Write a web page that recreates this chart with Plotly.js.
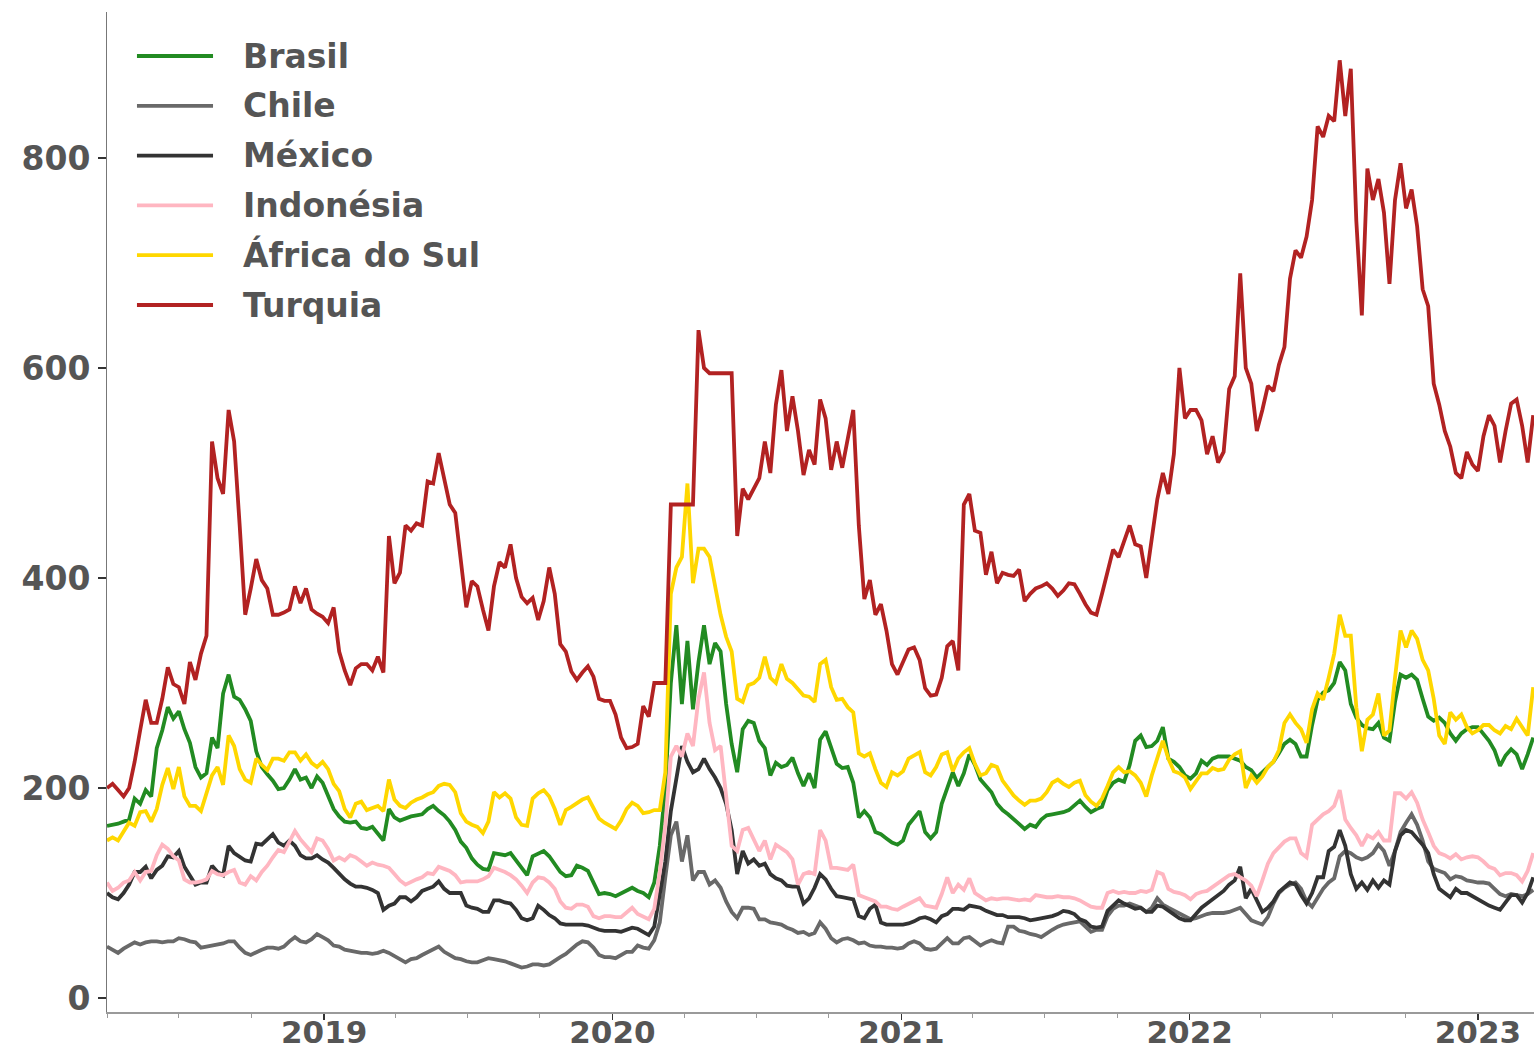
<!DOCTYPE html>
<html>
<head>
<meta charset="utf-8">
<script src="https://cdn.plot.ly/plotly-3.0.1.min.js"></script>
<style>
  html, body { margin: 0; padding: 0; background: #ffffff; }
  #chart { width: 1534px; height: 1051px; }
</style>
</head>
<body>
<div id="chart"></div>
<script>
// Weekly observations starting 2018-04-01
const startDate = '2018-04-01';
const stepDays = 7;

const seriesNames = ['Brasil', 'Chile', 'México', 'Indonésia', 'África do Sul', 'Turquia'];
const seriesColors = ['#228B22', '#696969', '#333333', '#FFB6C1', '#FFD700', '#B22222'];

const brasil = [
164,165,166,168,170,190,185,198,192,238,
255,277,266,273,256,243,220,210,214,248,
238,290,308,287,284,275,264,235,220,213,
207,199,200,208,218,208,210,200,211,205,
192,180,173,168,167,168,162,161,163,157,
150,180,172,169,171,173,174,175,180,183,
178,174,168,160,149,143,133,127,123,122,
138,137,136,138,131,125,117,135,138,140,
135,128,120,116,117,126,124,121,110,99,
100,99,97,100,102,105,102,100,96,110,
145,200,300,355,280,340,275,320,355,318,
338,330,280,242,215,256,264,262,245,238,
212,224,220,222,229,214,202,214,200,246,
254,238,223,219,220,205,172,178,172,158,
156,152,148,146,150,165,172,178,158,152,
158,185,200,215,202,214,232,222,208,202,
196,185,179,175,170,165,161,165,163,170,
174,175,176,177,179,184,188,182,177,180,
182,198,205,208,206,222,245,250,239,240,
245,258,228,225,220,212,209,214,226,222,
228,230,230,230,228,226,220,217,210,215,
220,225,233,242,246,242,230,230,260,284,
291,293,300,320,312,280,267,260,257,256,
262,248,245,282,308,305,308,303,285,268,
264,267,262,252,245,252,256,258,258,252,
245,236,221,231,237,232,218,232,248
];

const chile = [
49,46,43,47,50,53,51,53,54,54,
53,54,54,57,56,54,53,48,49,50,
51,52,54,54,48,43,41,44,46,48,
48,47,49,54,58,54,53,56,61,58,
55,50,49,46,45,44,43,43,42,43,
45,43,40,37,34,37,38,41,44,46,
49,44,41,38,37,35,34,34,36,38,
37,36,35,33,31,29,30,32,32,31,
32,36,39,42,47,51,54,53,48,41,
39,39,38,41,44,44,50,48,47,55,
72,115,155,168,130,155,112,120,120,108,
112,105,92,82,76,86,86,85,75,75,
72,71,70,67,65,62,63,60,62,72,
66,57,53,56,57,55,52,53,50,49,
49,48,48,47,48,52,54,52,47,46,
47,52,57,52,52,57,58,54,50,53,
55,53,52,68,68,64,63,61,60,58,
62,65,68,70,71,72,73,68,63,65,
65,78,85,88,88,90,88,86,82,86,
95,89,86,83,81,78,75,76,78,80,
81,81,81,82,84,86,80,74,72,70,
77,90,100,105,108,110,104,92,87,96,
104,110,114,135,140,138,134,132,134,138,
146,140,126,140,158,167,175,165,150,130,
123,121,119,113,116,115,112,111,110,110,
109,104,99,97,99,98,97,99,103
];

const mexico = [
100,96,94,100,108,120,120,125,114,122,
126,135,134,140,125,117,108,110,110,126,
120,117,145,138,135,131,130,147,146,151,
156,148,145,150,145,136,133,133,136,132,
129,124,118,113,109,106,106,105,103,100,
84,88,90,96,96,92,96,102,104,106,
111,104,100,100,100,88,86,85,82,82,
93,93,91,90,84,76,74,76,88,84,
79,76,71,70,70,70,70,69,67,65,
64,64,64,63,65,67,66,63,60,68,
100,130,178,210,240,225,215,218,228,218,
210,200,185,160,118,140,128,132,126,128,
118,114,112,107,106,106,90,95,105,118,
113,104,97,96,95,94,78,76,85,89,
72,70,70,70,70,71,73,76,77,75,
72,78,80,85,85,84,88,87,86,83,
81,79,79,77,77,77,76,74,75,76,
77,78,80,83,82,80,75,73,68,67,
68,83,88,93,90,87,85,86,82,82,
88,87,83,79,76,74,74,80,86,90,
94,98,102,108,112,125,95,104,92,82,
86,92,101,106,110,108,98,90,100,115,
115,140,144,160,145,118,104,110,103,112,
105,112,108,140,155,160,158,152,146,138,
118,104,100,96,104,100,100,97,93,90,
88,86,84,91,98,98,91,100,115
];

const indonesia = [
110,102,105,110,112,120,112,120,121,136,
146,142,135,131,113,110,110,111,113,121,
118,117,120,122,110,108,116,112,120,126,
134,141,139,149,159,151,145,139,152,150,
142,131,134,131,136,134,130,126,129,127,
126,124,118,112,108,111,113,115,119,118,
125,123,121,117,110,111,111,111,113,116,
124,122,120,117,113,107,100,110,115,114,
110,104,92,86,85,89,89,87,78,76,
78,78,77,77,81,86,80,77,75,85,
120,165,230,240,230,252,240,285,310,262,
236,240,190,145,140,160,162,150,140,150,
132,146,142,139,132,108,118,120,118,160,
150,124,124,123,122,127,98,96,94,92,
87,87,85,84,87,90,93,95,88,87,
86,99,115,100,108,103,114,100,96,93,
95,94,95,95,94,93,94,93,98,97,
96,96,97,96,96,95,93,90,87,86,
86,100,102,100,101,100,100,102,101,103,
120,118,104,101,100,98,94,99,101,102,
106,110,114,117,118,115,112,107,97,112,
128,138,143,149,152,152,138,134,165,170,
175,178,183,198,170,162,155,145,155,152,
158,150,150,195,195,190,196,186,170,158,
145,138,136,133,137,132,134,135,134,130,
125,123,117,119,119,117,111,121,138
];

const africaDoSul = [
150,153,150,158,167,164,177,178,168,180,
203,219,199,220,192,183,183,178,195,212,
220,203,250,240,218,208,205,228,222,217,
228,228,226,234,234,226,232,224,220,225,
218,204,197,180,172,185,187,179,181,183,
178,208,189,183,181,186,189,191,194,196,
202,204,203,196,176,168,165,163,157,168,
196,191,195,190,172,165,164,190,195,198,
192,180,165,179,182,186,189,191,180,171,
167,164,161,169,180,186,183,176,177,179,
179,215,385,410,420,490,395,428,428,420,
390,365,344,330,285,282,298,300,305,325,
305,300,318,304,300,294,288,287,282,318,
322,296,284,285,277,272,233,230,233,218,
205,201,215,212,216,228,231,234,215,212,
220,232,234,216,228,234,238,223,212,214,
222,220,207,200,193,188,184,188,188,190,
196,205,208,204,201,205,207,193,187,183,
190,202,215,220,215,216,212,205,192,212,
230,245,228,216,214,210,199,206,214,214,
219,217,218,227,232,235,200,212,205,211,
220,225,236,262,270,262,256,243,275,290,
284,305,328,365,345,345,277,235,265,270,
290,250,255,305,350,334,350,342,322,312,
285,250,242,272,265,270,258,252,255,260,
260,255,252,259,256,266,258,250,296
];

const turquia = [
200,204,198,192,200,225,255,284,262,262,
285,315,299,296,280,320,303,328,345,530,
495,480,560,530,450,365,390,418,398,390,
365,365,367,370,392,376,390,370,366,363,
357,372,330,312,298,314,318,318,312,325,
310,440,395,405,450,445,452,450,492,490,
519,495,470,462,420,372,397,392,370,350,
392,415,410,432,400,382,376,381,360,378,
410,385,337,330,311,303,310,316,306,285,
283,283,270,248,238,239,242,278,268,300,
300,300,470,470,470,470,470,636,600,595,
595,595,595,595,440,485,475,485,495,530,
500,565,598,540,573,540,498,522,508,570,
552,503,530,505,535,560,450,380,398,365,
375,350,318,308,320,332,334,322,295,288,
289,305,335,340,312,470,480,445,443,403,
425,395,405,403,402,408,378,385,390,392,
395,390,383,388,395,394,385,375,367,365,
385,407,427,420,435,450,432,430,400,439,
475,500,480,518,600,552,560,560,550,518,
535,510,520,580,592,690,600,585,540,560,
583,578,603,620,685,712,705,725,760,830,
820,840,835,893,840,885,740,650,790,760,
780,748,680,760,795,752,770,735,675,659,
585,565,540,525,500,495,520,508,502,535,
555,545,510,540,566,570,545,510,555
];

const yTickVals = [0, 200, 400, 600, 800];
const yTickText = ['0', '200', '400', '600', '800'];

const allValues = [brasil, chile, mexico, indonesia, africaDoSul, turquia];

function makeDates(n) {
  const t0 = Date.parse(startDate + 'T00:00:00Z');
  const out = [];
  for (let i = 0; i < n; i++) {
    out.push(new Date(t0 + i * stepDays * 86400000).toISOString().slice(0, 10));
  }
  return out;
}

const FONT = 'DejaVu Sans, Verdana, sans-serif';
const TEXT = '#555555';

const traces = allValues.map((vals, k) => ({
  type: 'scatter',
  mode: 'lines',
  name: seriesNames[k],
  x: makeDates(vals.length),
  y: vals,
  line: { color: seriesColors[k], width: 3.8 },
  showlegend: false,
  hoverinfo: 'x+y+name'
}));

// Legend drawn as key lines + labels in paper coordinates
const legendTop = 0.956;     // first row (paper y)
const legendStep = 0.0498;   // row spacing (paper units)
const legendX0 = 0.0210, legendX1 = 0.0743, legendTextX = 0.0939;
const shapes = [];
const annotations = [];
seriesNames.forEach((nm, k) => {
  const yy = legendTop - k * legendStep;
  shapes.push({
    type: 'line', xref: 'paper', yref: 'paper',
    x0: legendX0, x1: legendX1, y0: yy, y1: yy,
    line: { color: seriesColors[k], width: 3.8 }
  });
  annotations.push({
    xref: 'paper', yref: 'paper', x: legendTextX, y: yy,
    xanchor: 'left', yanchor: 'middle', showarrow: false,
    text: nm,
    font: { family: FONT, size: 33, color: TEXT, weight: 'bold' }
  });
});

const layout = {
  width: 1534,
  height: 1051,
  margin: { l: 107, r: 0, t: 12, b: 39, pad: 0 },
  paper_bgcolor: '#ffffff',
  plot_bgcolor: '#ffffff',
  font: { family: FONT, color: TEXT, size: 32 },
  showlegend: false,
  shapes: shapes,
  annotations: annotations,
  xaxis: {
    type: 'date',
    range: ['2018-04-01', '2023-03-13'],
    showgrid: false,
    zeroline: false,
    showline: true,
    linecolor: '#9a9a9a',
    linewidth: 1.5,
    ticks: 'outside',
    ticklen: 6,
    tickwidth: 1.5,
    tickcolor: '#333333',
    tick0: '2019-01-01',
    dtick: 'M12',
    tickformat: '%Y',
    ticklabelstandoff: -14,
    tickfont: { family: FONT, size: 31, color: TEXT, weight: 'bold' },
    minor: { dtick: 'M3', ticks: 'outside', ticklen: 4, tickcolor: '#9a9a9a', tickwidth: 1, showgrid: false }
  },
  yaxis: {
    range: [-13.3, 939],
    showgrid: false,
    zeroline: false,
    showline: true,
    linecolor: '#777777',
    linewidth: 1,
    ticks: 'outside',
    ticklen: 8,
    tickwidth: 1.5,
    tickcolor: '#333333',
    tickvals: yTickVals,
    ticktext: yTickText,
    ticklabelstandoff: 1,
    tickfont: { family: FONT, size: 33, color: TEXT, weight: 'bold' }
  }
};

Plotly.newPlot('chart', traces, layout, { displayModeBar: false, staticPlot: true });
</script>
</body>
</html>
